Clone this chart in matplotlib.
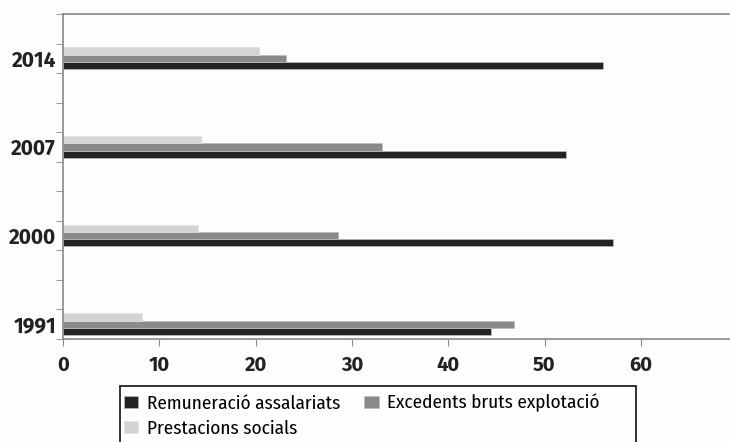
import matplotlib
matplotlib.use("Agg")
import matplotlib.pyplot as plt
from matplotlib.patches import Rectangle
import numpy as np

years = ["1991", "2000", "2007", "2014"]
remuneracio = [44.4, 57.1, 52.2, 56.1]
excedents = [46.8, 28.6, 33.1, 23.2]
prestacions = [8.2, 14.0, 14.3, 20.4]
series_names = ["Remuneració assalariats", "Excedents bruts explotació", "Prestacions socials"]
x_ticks = [0, 10, 20, 30, 40, 50, 60]

plt.rcParams["font.family"] = ["Fira Sans Condensed", "DejaVu Sans"]
tick_font = ["Fira Sans", "DejaVu Sans"]

W, H = 730, 442
fig = plt.figure(figsize=(7.3, 4.42), dpi=100, facecolor="#fdfdfd")
ax = fig.add_axes([63/W, 1-339/H, 1-63/W, (339-14)/H])
ax.set_facecolor("#fdfdfd")

y = np.arange(len(years))
h = 0.082
c_dark, c_mid, c_light = "#232323", "#8a8a8a", "#d4d4d4"
b1 = ax.barh(y - h, remuneracio, height=h, color=c_dark, edgecolor="#bbbbbb", linewidth=0.5)
b2 = ax.barh(y, excedents, height=h, color=c_mid, edgecolor="#bbbbbb", linewidth=0.5)
b3 = ax.barh(y + h, prestacions, height=h, color=c_light, edgecolor="#e0e0e0", linewidth=0.5)

ax.set_xlim(0, (W-63)/9.63)
ax.set_ylim(-1/6, 3.5)
ax.set_xticks(x_ticks)
ax.set_xticklabels([str(t) for t in x_ticks], fontsize=14.5, fontweight="bold", color="#222222", family=tick_font)
ax.set_yticks(y)
ax.set_yticklabels(years, fontsize=15, fontweight="bold", color="#222222", family=tick_font)
ax.set_yticks([-1/6 + k/3 for k in range(12)], minor=True)
ax.tick_params(axis="y", which="major", length=0, pad=5)
ax.tick_params(axis="y", which="minor", length=5, color="#888888", direction="out")
ax.tick_params(axis="x", length=5, color="#888888", direction="out", pad=7)

for s in ["left", "bottom", "top"]:
    ax.spines[s].set_color("#888888")
    ax.spines[s].set_linewidth(1.2)
ax.spines["right"].set_visible(False)

# legend frame
fig.patches.append(Rectangle((120/W, -0.05), (636-120)/W, 1-386/H+0.05, transform=fig.transFigure,
                             facecolor="#fdfdfd", edgecolor="#222222", linewidth=1.3, zorder=0))

leg = fig.legend([b1, b3, b2], [series_names[0], series_names[2], series_names[1]],
                 ncol=2, loc="upper left", bbox_to_anchor=(124/W, 1-394/H),
                 frameon=False, fontsize=13.8, handlelength=0.75, handleheight=0.65, handletextpad=0.45,
                 borderaxespad=0, borderpad=0, labelspacing=0.38, columnspacing=1.25)

fig.savefig("out.png", dpi=100, facecolor=fig.get_facecolor())
